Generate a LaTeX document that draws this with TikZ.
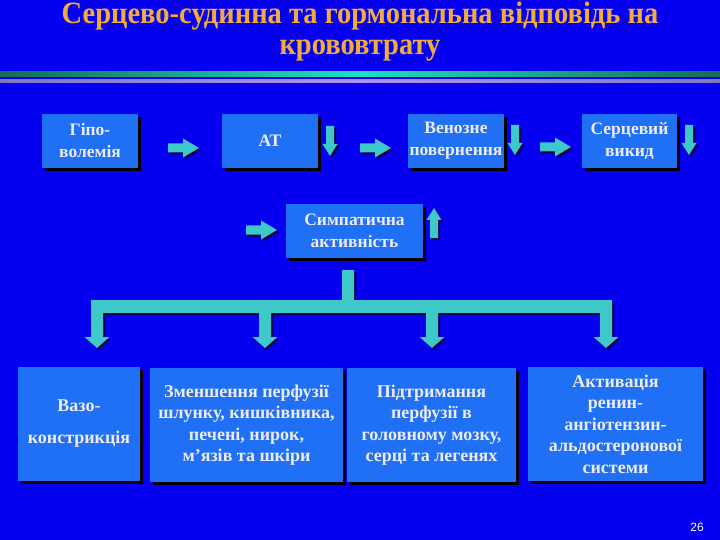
\documentclass[tikz,border=0pt]{standalone}
\usepackage{fontspec}
\setmainfont{Liberation Serif}
\newfontfamily\titlefont[FakeStretch=0.92]{Liberation Serif}
\setsansfont{Liberation Sans}
\usetikzlibrary{shadows}
\definecolor{bg}{RGB}{6,0,240}
\definecolor{boxc}{RGB}{32,112,245}
\definecolor{arr}{RGB}{62,200,200}
\definecolor{arrsh}{RGB}{0,0,70}
\definecolor{ttl}{RGB}{242,172,62}
\definecolor{txt}{RGB}{236,236,246}
\tikzset{
  box/.style={fill=boxc, draw=none, inner sep=0pt, align=center, text=txt,
    font=\bfseries\fontsize{17.5}{22}\selectfont,
    drop shadow={shadow xshift=3pt, shadow yshift=-3pt, fill=black, opacity=1}},
  lowbox/.style={box, minimum height=114pt, font=\bfseries\fontsize{18}{21.5}\selectfont},
  rarrshape/.pic={
    \fill[arrsh] (2,-2.5) -- (17,-2.5) -- (17,-7.5) -- (33,2) -- (17,11.5) -- (17,6.5) -- (2,6.5) -- cycle;
    \fill[arr] (0,-4.5) -- (15,-4.5) -- (15,-9.5) -- (31,0) -- (15,9.5) -- (15,4.5) -- (0,4.5) -- cycle;},
  darrshape/.pic={
    \fill[arrsh] (-2,2) -- (6,2) -- (6,20) -- (9.5,20) -- (2,32) -- (-5.5,20) -- (-2,20) -- cycle;
    \fill[arr] (-4,0) -- (4,0) -- (4,18) -- (7.5,18) -- (0,30) -- (-7.5,18) -- (-4,18) -- cycle;},
  uarrshape/.pic={
    \fill[arrsh] (-2,2) -- (6,2) -- (6,-16) -- (9.5,-16) -- (2,-28) -- (-5.5,-16) -- (-2,-16) -- cycle;
    \fill[arr] (-4,0) -- (4,0) -- (4,-18) -- (7.5,-18) -- (0,-30) -- (-7.5,-18) -- (-4,-18) -- cycle;}
}
\begin{document}
\begin{tikzpicture}[x=1pt,y=-1pt]
\useasboundingbox (0,0) rectangle (720,540);
\clip (0,0) rectangle (720,540);
\fill[bg] (0,0) rectangle (720,540);
% title
\node[anchor=base, text=ttl, font=\titlefont\bfseries\fontsize{31}{34}\selectfont] (t1) at (360,24) {Серцево-судинна та гормональна відповідь на};
\node[anchor=base, text=ttl, font=\titlefont\bfseries\fontsize{31}{34}\selectfont] (t2) at (360,55) {крововтрату};
% rules
\shade[left color={rgb,255:red,20;green,110;blue,80}, right color={rgb,255:red,20;green,110;blue,80}, middle color={rgb,255:red,30;green,225;blue,190}] (0,72) rectangle (720,77);
\shade[left color={rgb,255:red,130;green,120;blue,190}, right color={rgb,255:red,130;green,120;blue,190}, middle color={rgb,255:red,170;green,150;blue,240}] (0,80) rectangle (720,83);
% top row boxes
\node[box, minimum width=96pt, minimum height=54pt] (hypo) at (90,141) {Гіпо-\\волемія};
\node[box, minimum width=96pt, minimum height=54pt] (at) at (270,141) {АТ};
\node[box, minimum width=96pt, minimum height=54pt] (ven) at (456,141) {Венозне\\повернення};
\node[box, minimum width=95pt, minimum height=54pt] (co) at (629.5,141) {Серцевий\\викид};
\node[box, minimum width=137pt, minimum height=54pt] (sym) at (354.5,231) {Симпатична\\активність};
% small arrows
\pic (ra1) at (168,148) {rarrshape};
\pic (ra2) at (360,148) {rarrshape};
\pic (ra3) at (540,147) {rarrshape};
\pic (ra4) at (246,230) {rarrshape};
\pic (da1) at (330,126) {darrshape};
\pic (da2) at (515,125) {darrshape};
\pic (da3) at (689,125) {darrshape};
\pic (ua1) at (434,238) {uarrshape};
% tree arrow
\fill[arrsh] (344,272) -- (356,272) -- (356,302) -- (614,302) -- (614,339) -- (620.5,339) -- (608,350) -- (595.5,339) -- (602,339) -- (602,315) -- (440,315) -- (440,339) -- (446.5,339) -- (434,350) -- (421.5,339) -- (428,339) -- (428,315) -- (273,315) -- (273,339) -- (279.5,339) -- (267,350) -- (254.5,339) -- (261,339) -- (261,315) -- (105,315) -- (105,339) -- (111.5,339) -- (99,350) -- (86.5,339) -- (93,339) -- (93,302) -- (344,302) -- cycle;
\fill[arr] (342,270) -- (354,270) -- (354,300) -- (612,300) -- (612,337) -- (618.5,337) -- (606,348) -- (593.5,337) -- (600,337) -- (600,313) -- (438,313) -- (438,337) -- (444.5,337) -- (432,348) -- (419.5,337) -- (426,337) -- (426,313) -- (271,313) -- (271,337) -- (277.5,337) -- (265,348) -- (252.5,337) -- (259,337) -- (259,313) -- (103,313) -- (103,337) -- (109.5,337) -- (97,348) -- (84.5,337) -- (91,337) -- (91,300) -- (342,300) -- cycle;
% bottom boxes
\node[lowbox, minimum width=122pt, font=\bfseries\fontsize{18}{24}\selectfont] (vaso) at (79,424) {Вазо-\\[8pt]констрикція};
\node[lowbox, minimum width=193pt] (red) at (246.5,425) {Зменшення перфузії\\шлунку, кишківника,\\печені, нирок,\\м’язів та шкіри};
\node[lowbox, minimum width=169pt] (keep) at (431.5,425) {Підтримання\\перфузії в\\головному мозку,\\серці та легенях};
\node[lowbox, minimum width=175pt] (raas) at (615.5,424) {Активація\\ренин-\\ангіотензин-\\альдостеронової\\системи};
% page number
\node[text=white, font=\sffamily\fontsize{12}{14}\selectfont] (pg) at (697,527) {26};
\end{tikzpicture}
\end{document}
